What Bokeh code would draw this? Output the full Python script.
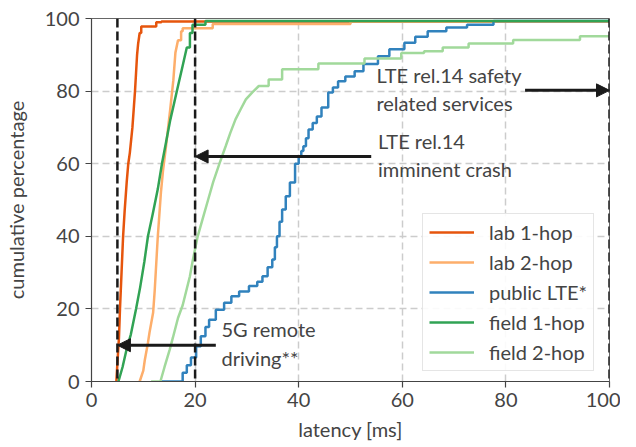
from bokeh.plotting import figure
from bokeh.models import Span, Arrow, NormalHead, Label, Legend, LegendItem
from bokeh.embed import file_html
from bokeh.resources import INLINE

# ---------------- data ----------------
series_names = ["lab 1-hop", "lab 2-hop", "public LTE*", "field 1-hop", "field 2-hop"]

lab1_x = [4.8, 5.0, 5.3, 5.5, 5.8, 6.1, 6.4, 6.8, 7.1, 7.4, 7.9, 8.2, 8.4, 8.6, 8.8, 9.0, 9.3, 9.6, 12.5, 13.5, 100.0]
lab1_y = [0, 5, 12, 20, 30, 40, 47, 55, 60, 63, 70, 76, 80, 85, 90, 93, 96, 97.8, 99.0, 99.2, 99.2]

lab2_x = [9.3, 10.0, 10.3, 10.9, 11.2, 11.9, 12.2, 12.8, 13.4, 13.8, 14.4, 15.2, 15.8, 16.2, 16.7, 17.3, 17.6, 23.4, 50.0, 100.0]
lab2_y = [0, 3, 6, 10.7, 13.5, 19, 25, 40, 52, 58, 65, 75, 83, 90.6, 94, 96.5, 97.3, 98.5, 99.2, 99.2]

lte_x = [13.5, 17.0, 17.6, 18.4, 19.2, 20.2, 21.1, 22.0, 22.7, 24.0, 25.6, 27.0, 28.5, 30.4, 32.0, 33.0, 34.0,
         34.9, 35.4, 35.8, 36.3, 36.8, 37.5, 38.3, 39.3, 40.0, 40.5, 40.9, 41.4, 41.9, 42.7, 43.5, 44.4, 45.7,
         46.6, 47.6, 49.0, 50.8, 52.5, 55.3, 57.5, 60.4, 62.5, 64.9, 68.5, 72.5, 77.6, 100.0]
lte_y = [0, 0, 2.4, 4.5, 6.6, 9.7, 12.5, 15, 17, 19.8, 21.7, 23.5, 24.8, 26.3, 27.5, 29, 31.5,
         33.6, 37, 40, 44, 47.4, 51, 54.8, 60, 62, 63.5, 64.8, 67, 69.4, 71.2, 73, 75.5, 79.6,
         81, 82.7, 84, 85.5, 87.5, 89.6, 91.5, 93.3, 95, 96.5, 97.5, 98.3, 99.3, 99.3]

field1_x = [5.2, 6.0, 6.8, 7.6, 8.6, 9.4, 10.2, 10.9, 11.8, 12.8, 13.6, 14.4, 15.2, 16.0, 16.8, 17.6, 18.4, 19.0, 19.5, 22.0, 100.0]
field1_y = [0, 4, 9, 13, 20, 26, 33, 40, 46, 53, 60, 66, 72, 77, 82, 87, 92, 96, 98.3, 99.3, 99.3]

field2_x = [11.5, 13.3, 14.1, 15.1, 15.7, 16.7, 17.6, 18.3, 19.0, 19.5, 20.0, 20.5, 21.5, 22.5, 23.5, 24.7,
            25.9, 26.8, 27.8, 28.8, 29.8, 31.0, 32.3, 34.2, 36.8, 43.8, 52.7, 59.8, 64.2, 67.8, 72.8, 81.4, 94.3, 100.0]
field2_y = [0, 0, 4, 8.8, 12, 17.5, 21, 25, 29, 33, 36.5, 40, 45, 50, 55, 60,
            64.8, 68.5, 72.2, 75, 77.7, 79.6, 81.4, 83.2, 86.0, 87.6, 89.0, 90.5, 91.0, 92.0, 93.1, 94.1, 95.1, 95.1]

series_x = [lab1_x, lab2_x, lte_x, field1_x, field2_x]
series_y = [lab1_y, lab2_y, lte_y, field1_y, field2_y]
colors = ["#e6550d", "#fdae6b", "#3182bd", "#31a354", "#a1d99b"]
# latency from which each CDF is drawn as a visible staircase (below: dense steps look like a line)
stair_from = [9.5, 17.0, 0.0, 19.0, 34.0]

# latency requirements [ms] drawn as dashed verticals
req_latency = [5, 20, 100]
req_texts = ["5G remote\ndriving**", "LTE rel.14\nimminent crash", "LTE rel.14 safety\nrelated services"]

x_ticks = [0, 20, 40, 60, 80, 100]
y_ticks = [0, 20, 40, 60, 80, 100]


def cdf_path(xs, ys, start):
    px, py = [xs[0]], [ys[0]]
    for i in range(1, len(xs)):
        if xs[i] >= start:
            px.append(xs[i])
            py.append(ys[i - 1])
        px.append(xs[i])
        py.append(ys[i])
    return px, py


# ---------------- style ----------------
FONT = "Lato"
TXT = "#444444"
FS = "20px"
INK = "#1a1a1a"

p = figure(width=620, height=447, x_range=(0, 100), y_range=(0, 100),
           output_backend="svg", toolbar_location=None,
           min_border_left=87, min_border_right=11, min_border_top=18, min_border_bottom=66,
           background_fill_color="white", border_fill_color="white")

p.outline_line_color = "#666666"
p.outline_line_width = 1

for g in (p.xgrid, p.ygrid):
    g.grid_line_color = "#cccccc"
    g.grid_line_width = 1.5
    g.grid_line_dash = "7 4"

p.xaxis.ticker = x_ticks
p.yaxis.ticker = y_ticks
for ax in (p.xaxis, p.yaxis):
    ax.axis_line_color = "#444444"
    ax.axis_line_width = 1.2
    ax.major_tick_line_color = "#444444"
    ax.major_tick_line_width = 1.2
    ax.major_tick_out = 6
    ax.major_tick_in = 0
    ax.minor_tick_out = 0
    ax.minor_tick_in = 0
    ax.major_label_text_font = FONT
    ax.major_label_text_font_size = FS
    ax.major_label_text_color = TXT
    ax.axis_label_text_font = FONT
    ax.axis_label_text_font_size = FS
    ax.axis_label_text_color = TXT
    ax.axis_label_text_font_style = "normal"
p.xaxis.axis_label = "latency [ms]"
p.yaxis.axis_label = "cumulative percentage"
p.xaxis.major_label_standoff = 5
p.yaxis.major_label_standoff = 6
p.xaxis.axis_label_standoff = 7
p.yaxis.axis_label_standoff = 14

items = []
for name, xs, ys, c, s in zip(series_names, series_x, series_y, colors, stair_from):
    lx, ly = cdf_path(xs, ys, s)
    r = p.line(lx, ly, line_color=c, line_width=2.5)
    items.append(LegendItem(label=name, renderers=[r]))

# requirement lines
for xv in req_latency:
    p.add_layout(Span(location=xv, dimension="height", line_color=INK, line_width=2.5, line_dash="9 4"))

# arrows + labels
arrow_specs = [
    (24.0, 5, 10.0, 25.1),     # x_start, x_end(requirement), y, text x
    (54.0, 20, 62.0, 55.3),
    (83.7, 100, 80.2, 55.0),
]
for (xs, xe, yv, tx), txt in zip(arrow_specs, req_texts):
    p.add_layout(Arrow(end=NormalHead(size=13, fill_color=INK, line_color=INK, line_width=1),
                       x_start=xs, y_start=yv, x_end=xe, y_end=yv,
                       line_color=INK, line_width=3))
    p.add_layout(Label(x=tx, y=yv + 0.4, text=txt, text_font=FONT, text_font_size=FS,
                       text_color=TXT, text_align="left", text_baseline="middle",
                       text_line_height=1.2))

legend = Legend(items=items, location=(331, 10), orientation="vertical")
legend.label_text_font = FONT
legend.label_text_font_size = FS
legend.label_text_color = TXT
legend.glyph_width = 45
legend.glyph_height = 20
legend.label_height = 20
legend.label_standoff = 15
legend.spacing = 6
legend.padding = 6
legend.margin = 0
legend.border_line_color = "#cccccc"
legend.border_line_width = 1.5
legend.background_fill_color = "white"
legend.background_fill_alpha = 0.9
p.add_layout(legend, "center")

open("out.html", "w").write(file_html(p, INLINE))
